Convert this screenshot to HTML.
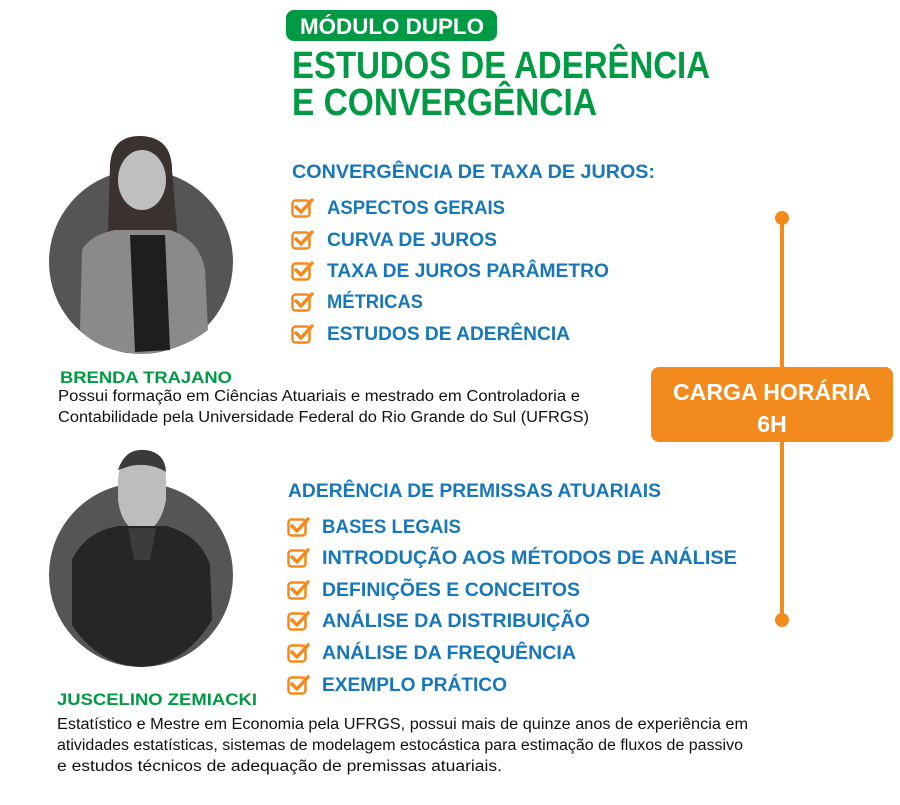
<!DOCTYPE html>
<html><head><meta charset="utf-8"><style>
html,body{margin:0;padding:0;background:#fff;}
svg{display:block}
.h{font-family:"Liberation Sans",sans-serif;font-weight:bold}
.b{font-family:"Liberation Sans",sans-serif}
</style></head><body>
<svg width="900" height="805" viewBox="0 0 900 805" xmlns="http://www.w3.org/2000/svg">
<defs>
<clipPath id="c1"><path d="M49,262 A92,92 0 0 0 233,262 A92,92 0 0 0 49,262 Z M95,200 L95,130 L185,130 L185,200 Z"/></clipPath>
<g id="chk">
<rect x="1.5" y="3.5" width="17" height="16" rx="3" fill="none" stroke="#f28a1e" stroke-width="2.5"/>
<path d="M5,10 L10,15 L21,3" fill="none" stroke="#f28a1e" stroke-width="3.5" stroke-linecap="round" stroke-linejoin="round"/>
</g>
</defs>
<!-- header -->
<rect x="286" y="10" width="211" height="31" rx="8" fill="#009a44"/>
<text class="h" x="300" y="34" font-size="22" fill="#fff" textLength="184" lengthAdjust="spacingAndGlyphs">MÓDULO DUPLO</text>
<text class="h" x="292" y="78" font-size="38" fill="#009a44" textLength="418" lengthAdjust="spacingAndGlyphs">ESTUDOS DE ADERÊNCIA</text>
<text class="h" x="292" y="115" font-size="38" fill="#009a44" textLength="305" lengthAdjust="spacingAndGlyphs">E CONVERGÊNCIA</text>

<!-- photo 1 -->
<circle cx="141" cy="262" r="92" fill="#555"/>
<g>
<path d="M110,165 Q112,135 142,136 Q172,138 172,170 L178,240 Q190,270 180,300 L100,300 Q95,260 108,230 Z" fill="#3a3230"/>
<ellipse cx="142" cy="180" rx="24" ry="30" fill="#bfbfbf"/>
<path d="M82,250 Q90,235 115,230 L170,230 Q200,240 205,270 L208,330 Q180,352 141,354 Q100,352 80,330 Z" fill="#8a8a8a"/>
<path d="M130,235 L165,235 L170,350 L135,352 Z" fill="#1e1e1e"/>
</g>
<text class="h" x="60" y="383" font-size="17" fill="#009a44" textLength="172" lengthAdjust="spacingAndGlyphs">BRENDA TRAJANO</text>
<text class="b" x="58" y="401" font-size="15.5" fill="#111" textLength="522" lengthAdjust="spacingAndGlyphs">Possui formação em Ciências Atuariais e mestrado em Controladoria e</text>
<text class="b" x="58" y="422" font-size="15.5" fill="#111" textLength="531" lengthAdjust="spacingAndGlyphs">Contabilidade pela Universidade Federal do Rio Grande do Sul (UFRGS)</text>

<!-- photo 2 -->
<circle cx="141" cy="575" r="92" fill="#555"/>
<path d="M118,480 Q120,450 142,450 Q166,450 166,480 L166,500 Q160,530 142,532 Q122,530 118,500 Z" fill="#bdbdbd"/>
<path d="M118,470 Q125,448 145,450 Q165,452 166,472 Q150,462 130,466 Z" fill="#3a3a3a"/>
<path d="M72,560 Q85,532 118,526 L166,526 Q200,535 210,565 L212,620 Q185,665 141,667 Q98,665 72,625 Z" fill="#262626"/>
<path d="M128,528 L156,528 L150,560 L134,560 Z" fill="#3c3c3c"/>
<text class="h" x="57" y="705" font-size="17" fill="#009a44" textLength="200" lengthAdjust="spacingAndGlyphs">JUSCELINO ZEMIACKI</text>
<text class="b" x="57" y="729" font-size="15.5" fill="#111" textLength="691" lengthAdjust="spacingAndGlyphs">Estatístico e Mestre em Economia pela UFRGS, possui mais de quinze anos de experiência em</text>
<text class="b" x="57" y="750" font-size="15.5" fill="#111" textLength="686" lengthAdjust="spacingAndGlyphs">atividades estatísticas, sistemas de modelagem estocástica para estimação de fluxos de passivo</text>
<text class="b" x="57" y="771" font-size="15.5" fill="#111" textLength="445" lengthAdjust="spacingAndGlyphs">e estudos técnicos de adequação de premissas atuariais.</text>

<!-- section 1 -->
<text class="h" x="292" y="178" font-size="19" fill="#1777b8" textLength="363" lengthAdjust="spacingAndGlyphs">CONVERGÊNCIA DE TAXA DE JUROS:</text>
<use href="#chk" x="291" y="197"/>
<text class="h" x="327" y="214" font-size="19" fill="#1777b8" textLength="178" lengthAdjust="spacingAndGlyphs">ASPECTOS GERAIS</text>
<use href="#chk" x="291" y="229"/>
<text class="h" x="327" y="246" font-size="19" fill="#1777b8" textLength="170" lengthAdjust="spacingAndGlyphs">CURVA DE JUROS</text>
<use href="#chk" x="291" y="260"/>
<text class="h" x="327" y="277" font-size="19" fill="#1777b8" textLength="282" lengthAdjust="spacingAndGlyphs">TAXA DE JUROS PARÂMETRO</text>
<use href="#chk" x="291" y="291"/>
<text class="h" x="327" y="308" font-size="19" fill="#1777b8" textLength="96" lengthAdjust="spacingAndGlyphs">MÉTRICAS</text>
<use href="#chk" x="291" y="323"/>
<text class="h" x="327" y="340" font-size="19" fill="#1777b8" textLength="243" lengthAdjust="spacingAndGlyphs">ESTUDOS DE ADERÊNCIA</text>

<!-- section 2 -->
<text class="h" x="288" y="497" font-size="19" fill="#1777b8" textLength="373" lengthAdjust="spacingAndGlyphs">ADERÊNCIA DE PREMISSAS ATUARIAIS</text>
<use href="#chk" x="287" y="516"/>
<text class="h" x="322" y="533" font-size="19" fill="#1777b8" textLength="139" lengthAdjust="spacingAndGlyphs">BASES LEGAIS</text>
<use href="#chk" x="287" y="547"/>
<text class="h" x="322" y="564" font-size="19" fill="#1777b8" textLength="415" lengthAdjust="spacingAndGlyphs">INTRODUÇÃO AOS MÉTODOS DE ANÁLISE</text>
<use href="#chk" x="287" y="579"/>
<text class="h" x="322" y="596" font-size="19" fill="#1777b8" textLength="258" lengthAdjust="spacingAndGlyphs">DEFINIÇÕES E CONCEITOS</text>
<use href="#chk" x="287" y="610"/>
<text class="h" x="322" y="627" font-size="19" fill="#1777b8" textLength="268" lengthAdjust="spacingAndGlyphs">ANÁLISE DA DISTRIBUIÇÃO</text>
<use href="#chk" x="287" y="642"/>
<text class="h" x="322" y="659" font-size="19" fill="#1777b8" textLength="254" lengthAdjust="spacingAndGlyphs">ANÁLISE DA FREQUÊNCIA</text>
<use href="#chk" x="287" y="674"/>
<text class="h" x="322" y="691" font-size="19" fill="#1777b8" textLength="185" lengthAdjust="spacingAndGlyphs">EXEMPLO PRÁTICO</text>

<!-- timeline -->
<line x1="782" y1="218" x2="782" y2="620" stroke="#f28a1e" stroke-width="4"/>
<circle cx="782" cy="218" r="7" fill="#f28a1e"/>
<circle cx="782" cy="620" r="7" fill="#f28a1e"/>
<rect x="651" y="367" width="242" height="75" rx="8" fill="#f28a1e"/>
<text class="h" x="772" y="400" font-size="23" fill="#fff" text-anchor="middle" textLength="198" lengthAdjust="spacingAndGlyphs">CARGA HORÁRIA</text>
<text class="h" x="772" y="432" font-size="23" fill="#fff" text-anchor="middle">6H</text>
</svg>
</body></html>
